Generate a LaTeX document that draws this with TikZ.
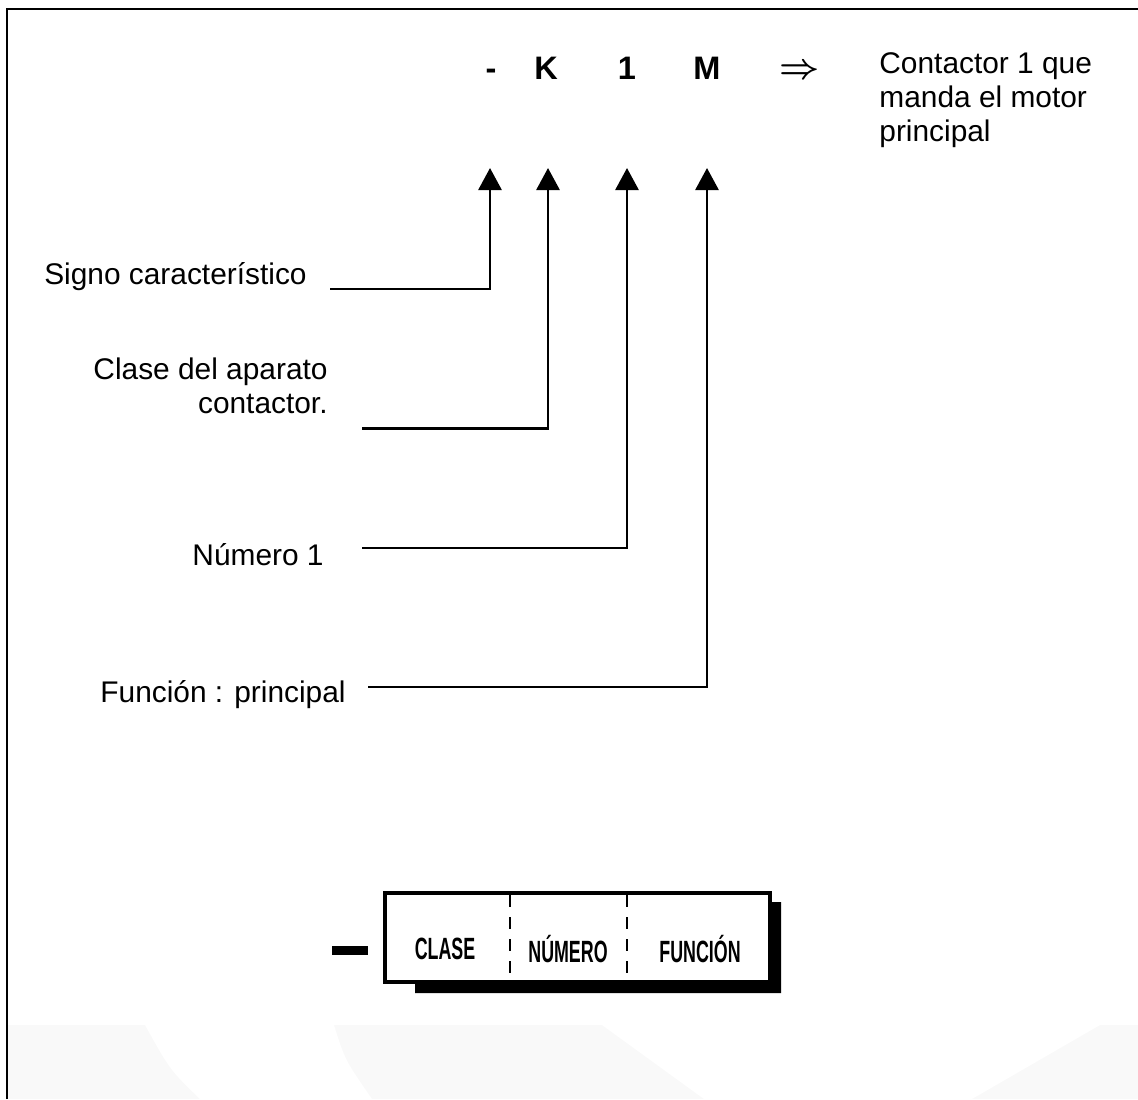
\documentclass[tikz,border=0pt]{standalone}
\usepackage{fontspec}
\setmainfont{Liberation Sans}
\usetikzlibrary{arrows.meta}

\newcommand{\narrowtxt}[1]{\scalebox{0.58}[1]{#1}}

\begin{document}
\begin{tikzpicture}[x=0.02cm, y=-0.02cm, line width=1.6pt,
  lbl/.style={inner sep=0pt, font=\fontsize{17}{19.4}\selectfont},
  code/.style={inner sep=0pt, font=\fontsize{18.5}{20}\selectfont\bfseries},
  field/.style={inner sep=0pt, font=\fontsize{17.5}{20}\selectfont\bfseries},
  link/.style={-{Triangle[length=0.44cm, width=0.46cm]}}]

  \useasboundingbox (0,0) rectangle (1138,1099);

  %% ── faint watermark at the foot ───────────────
  \fill[gray!5] (7,1025) rectangle (1138,1099);
  \fill[white] (145,1025) -- (334,1025) .. controls (345,1060) .. (372,1099)
        -- (200,1099) .. controls (170,1070) .. (145,1025) -- cycle;
  \fill[white] (602,1025) -- (1100,1025) -- (972,1099) -- (704,1099) -- cycle;

  %% ── frame ─────────────────────────────────────
  \draw (7,1099) -- (7,9) -- (1138,9);

  %% ── code - K 1 M ──────────────────────────────
  \node[code, anchor=base] (sgn) at (491,79) {-};
  \node[code, anchor=base] (cls) at (546,79) {K};
  \node[code, anchor=base] (num) at (627,79) {1};
  \node[code, anchor=base] (fun) at (707,79) {M};
  \node[inner sep=0pt, scale=1.15, font=\fontsize{17}{19.4}\selectfont\mathversion{bold}]
        (impl) at (800,72) {$\Rightarrow$};
  \node[lbl, anchor=west, align=left] (mean) at (878,100)
        {Contactor 1 que\\manda el motor\\principal};

  % arrow tips under the code
  \coordinate (tsgn) at (490,168);
  \coordinate (tcls) at (548,168);
  \coordinate (tnum) at (627,168);
  \coordinate (tfun) at (707,168);

  %% ── labels and leaders ────────────────────────
  \node[lbl, anchor=base east] (sig) at (308,284) {Signo característico};
  \node[lbl, anchor=east, align=right] (apa) at (329,386)
        {Clase del aparato\\contactor.};
  \node[lbl, anchor=base east] (nro) at (325,565) {Número 1};
  \node[lbl, anchor=base east] (fnc) at (347,702) {Función : principal};

  \draw[link] (sig.base east) ++(22,5) -| (tsgn);
  \draw[link] (apa.south east) ++(33,13) -| (tcls);
  \draw[link] (nro.base east) ++(37,-17) -| (tnum);
  \draw[link] (fnc.base east) ++(21,-15) -| (tfun);

  %% ── field box ─────────────────────────────────
  \fill (332,946) rectangle (368,955);
  \fill (770,902) -- (781,902) -- (781,993) -- (415,993)
        -- (415,982) -- (770,982) -- cycle;
  \draw[line width=1.8pt] (385,893) rectangle (770,982);
  \draw[line width=1.2pt, dash pattern=on 0.24cm off 0.2cm] (510,895) -- (510,980);
  \draw[line width=1.2pt, dash pattern=on 0.24cm off 0.2cm] (627,895) -- (627,980);
  \node[field] (fcls) at (445,949) {\narrowtxt{CLASE}};
  \node[field] (fnum) at (568,949) {\narrowtxt{NÚMERO}};
  \node[field] (ffun) at (700,949) {\narrowtxt{FUNCIÓN}};

\end{tikzpicture}
\end{document}
